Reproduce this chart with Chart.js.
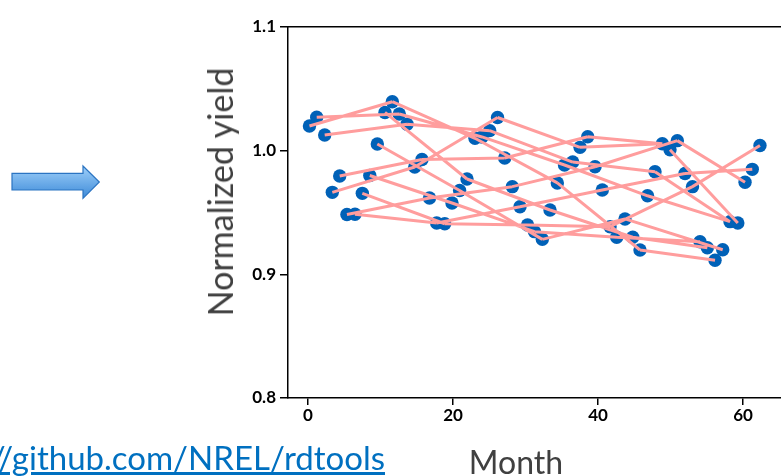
<!DOCTYPE html>
<html>
<head>
<meta charset="utf-8">
<script src="https://cdn.jsdelivr.net/npm/chart.js@4.4.1/dist/chart.umd.min.js"></script>
<style>
  html, body { margin: 0; padding: 0; background: #fff; }
  #wrap { position: relative; width: 781px; height: 476px; overflow: hidden; }
  #yieldChart { position: absolute; left: 0; top: 0; }
  .ytitle { position: absolute; left: 220px; top: 192px; transform: translate(-50%, -50%) rotate(-90deg);
    font-family: Lato, sans-serif; font-size: 34px; line-height: 34px; color: #404040; white-space: nowrap; }
  .xtitle { position: absolute; left: 516px; top: 446px; transform: translateX(-50%);
    font-family: Lato, sans-serif; font-size: 32px; line-height: 32px; color: #404040; white-space: nowrap; }
  .link { position: absolute; right: 396px; top: 441px; font-family: Lato, sans-serif; font-size: 33px;
    line-height: 33px; color: #0070C0; text-decoration: underline; white-space: nowrap; }
  .arrow { position: absolute; left: 0; top: 160px; }
</style>
</head>
<body>
<div id="wrap">
  <canvas id="yieldChart" width="781" height="476"></canvas>
  <svg class="arrow" width="110" height="45">
    <defs>
      <linearGradient id="arrowFill" x1="0" y1="0" x2="0" y2="1">
        <stop offset="0" stop-color="#9fd0fa"/>
        <stop offset="1" stop-color="#3d8ad8"/>
      </linearGradient>
    </defs>
    <polygon points="12,13.3 83,13.3 83,6 99.3,22 83,38.3 83,30 12,30" fill="url(#arrowFill)" stroke="#2b74c2" stroke-width="1.2"/>
  </svg>
  <div class="ytitle">Normalized yield</div>
  <div class="xtitle">Month</div>
  <div class="link">https://github.com/NREL/rdtools</div>
</div>
<script>
// MONTHLY NORMALIZED YIELD

const months = [
  0.2, 1.2, 2.3, 3.35, 4.37, 5.37, 6.48, 7.49, 8.52, 9.56,
  10.62, 11.63, 12.59, 13.66, 14.72, 15.72, 16.76, 17.75, 18.86, 19.86,
  20.91, 21.93, 23.03, 24.0, 25.06, 26.14, 27.13, 28.18, 29.24, 30.28,
  31.24, 32.32, 33.38, 34.39, 35.38, 36.51, 37.52, 38.58, 39.59, 40.59,
  41.66, 42.58, 43.72, 44.79, 45.79, 46.83, 47.86, 48.87, 49.93, 50.94,
  52.0, 53.03, 54.07, 55.08, 56.14, 57.2, 58.21, 59.28, 60.28, 61.28,
  62.34,
];

const yieldValues = [
  1.0199, 1.027, 1.0127, 0.9663, 0.9795, 0.9484, 0.9486, 0.9655, 0.9799, 1.0054,
  1.0309, 1.0396, 1.0297, 1.0214, 0.9868, 0.9929, 0.9617, 0.9415, 0.9409, 0.9577,
  0.9678, 0.9771, 1.01, 1.0111, 1.0162, 1.0268, 0.9941, 0.9709, 0.9547, 0.9399,
  0.9345, 0.9283, 0.952, 0.9739, 0.9884, 0.9908, 1.0027, 1.0113, 0.987, 0.9682,
  0.9385, 0.93, 0.9448, 0.93, 0.9197, 0.9635, 0.983, 1.0056, 1.0008, 1.0081,
  0.9815, 0.9709, 0.9264, 0.9215, 0.9114, 0.9199, 0.9426, 0.9415, 0.9745, 0.9849,
  1.0042,
];

// each pair joins two months (index into the arrays above)
const pairFrom = [
  0, 1, 2, 3, 4, 5, 6, 7, 8, 9,
  10, 11, 12, 13, 14, 15, 16, 17, 18, 19,
  20, 21, 22, 23, 24, 25, 26, 27, 28, 29,
  30, 31, 32, 33, 34, 35, 36, 37, 38, 39,
  40, 41, 42, 43, 44, 45, 46, 48, 49, 50,
  51,
];
const pairTo = [
  11, 12, 13, 14, 15, 16, 17, 18, 19, 20,
  21, 22, 23, 24, 25, 26, 27, 28, 29, 30,
  31, 32, 33, 34, 35, 36, 37, 38, 39, 40,
  41, 42, 43, 44, 45, 46, 47, 47, 49, 50,
  51, 52, 55, 53, 54, 56, 56, 57, 58, 59,
  60,
];

const xTicks = [0, 20, 40, 60];
const yTicks = [0.8, 0.9, 1.0, 1.1];

const points = months.map((m, i) => ({ x: m, y: yieldValues[i] }));

const pairLines = [];
pairFrom.forEach((a, k) => {
  pairLines.push(points[a], points[pairTo[k]], { x: null, y: null });
});

const tickFont = { family: "Lato", size: 17, weight: "bold" };

const yieldCtx = document.getElementById("yieldChart");

new Chart(yieldCtx, {
  type: "scatter",
  data: {
    datasets: [
      {
        label: "Pairs",
        data: pairLines,
        showLine: true,
        spanGaps: false,
        borderColor: "#ff9d9d",
        borderWidth: 3,
        pointRadius: 0,
        order: 0,
      },
      {
        label: "Normalized yield",
        data: points,
        backgroundColor: "#0061b7",
        borderWidth: 0,
        pointRadius: 6.7,
        order: 1,
      },
    ],
  },
  options: {
    responsive: false,
    animation: false,
    layout: { autoPadding: false, padding: { left: 200, top: 27, right: 0, bottom: 0 } },
    plugins: { legend: { display: false }, tooltip: { enabled: false } },
    scales: {
      x: {
        type: "linear",
        min: -2.76,
        max: 65.24,
        afterBuildTicks: (s) => { s.ticks = xTicks.map((v) => ({ value: v })); },
        afterFit: (s) => { s.height = 78; },
        grid: { drawOnChartArea: false, tickLength: 7, color: "#000", lineWidth: 1.5 },
        border: { color: "#000", width: 1.5 },
        ticks: { color: "#000", font: tickFont, padding: 0, maxRotation: 0 },
      },
      xTop: {
        type: "linear",
        position: "top",
        min: -2.76,
        max: 65.24,
        afterBuildTicks: (s) => { s.ticks = []; },
        afterFit: (s) => { s.height = 0; },
        grid: { display: false },
        border: { color: "#000", width: 1.5 },
        ticks: { display: false },
      },
      y: {
        min: 0.8,
        max: 1.1,
        afterBuildTicks: (s) => { s.ticks = yTicks.map((v) => ({ value: v })); },
        afterFit: (s) => { s.width = 88; },
        grid: { drawOnChartArea: false, tickLength: 8, color: "#000", lineWidth: 1.5 },
        border: { color: "#000", width: 1.5 },
        ticks: { color: "#000", font: tickFont, padding: 4, callback: (v) => v.toFixed(1) },
      },
    },
  },
});
</script>
</body>
</html>
